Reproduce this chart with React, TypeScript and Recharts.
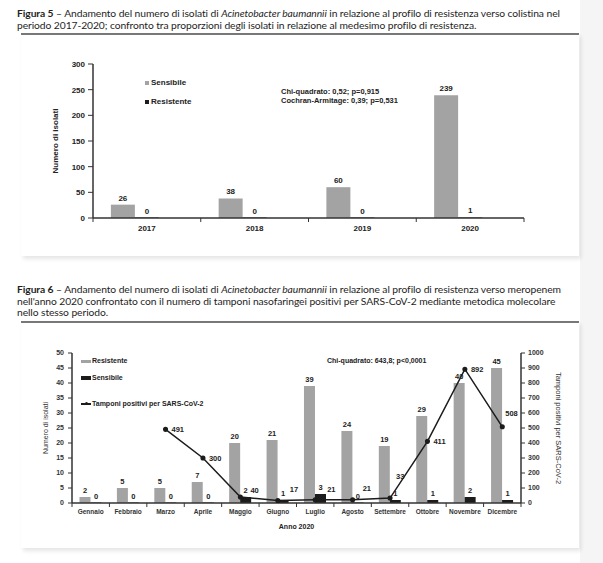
import React from 'react';
import {
  BarChart, ComposedChart, Bar, Line, XAxis, YAxis, LabelList, Legend,
} from 'recharts';

// ---------- Figura 5 data ----------
const years = ['2017', '2018', '2019', '2020'];
const sensibile5 = [26, 38, 60, 239];
const resistente5 = [0, 0, 0, 1];
const yTicks5 = [0, 50, 100, 150, 200, 250, 300];

// ---------- Figura 6 data ----------
const months = ['Gennaio', 'Febbraio', 'Marzo', 'Aprile', 'Maggio', 'Giugno', 'Luglio', 'Agosto', 'Settembre', 'Ottobre', 'Novembre', 'Dicembre'];
const resistente6 = [2, 5, 5, 7, 20, 21, 39, 24, 19, 29, 40, 45];
const sensibile6 = [0, 0, 0, 0, 2, 1, 3, 0, 1, 1, 2, 1];
const tamponi = [null, null, 491, 300, 40, 17, 21, 21, 33, 411, 892, 508];
const yTicks6Left = [0, 5, 10, 15, 20, 25, 30, 35, 40, 45, 50];
const yTicks6Right = [0, 100, 200, 300, 400, 500, 600, 700, 800, 900, 1000];

// label nudges for the line values (as placed in the original figure)
const lineLabelDx = [6, 6, 6, 6, 10, 12, 12, 10, 6, 6, 6, 3];
const lineLabelDy = [0, 0, 0, 0, -7, -11, -10, -11, -22, 0, 0, -13];

const data5 = years.map((y, i) => ({ year: y, sensibile: sensibile5[i], resistente: resistente5[i] }));
const data6 = months.map((m, i) => ({ month: m, resistente: resistente6[i], sensibile: sensibile6[i], tamponi: tamponi[i] }));

const CF = '"Liberation Sans", Arial, sans-serif';
const GRAY = '#a3a3a3';
const BLACK = '#1c1c1c';
const AXIS = '#333';

// keeps zero-value bars present (hidden under the axis line) so that their "0" labels are drawn
const zeroMin = (v: any) => (v === 0 ? 0.5 : 0);

function makeCatTick(gap: number, fontSize: number, fontWeight: string, fill: string) {
  return (props: any) => {
    const { x, y, payload, index, visibleTicksCount } = props;
    const off = payload && typeof payload.offset === 'number' ? payload.offset : 0;
    const ay = y - gap;
    return (
      <g>
        {off > 0 && <line x1={x - off} x2={x - off} y1={ay} y2={ay + 4} stroke={AXIS} strokeWidth={1} />}
        {off > 0 && index === visibleTicksCount - 1 && (
          <line x1={x + off} x2={x + off} y1={ay} y2={ay + 4} stroke={AXIS} strokeWidth={1} />
        )}
        <text x={x} y={y} dy="0.71em" textAnchor="middle" fontSize={fontSize} fontWeight={fontWeight} fill={fill} fontFamily={CF}>
          {payload.value}
        </text>
      </g>
    );
  };
}

function AxisTitle(props: any) {
  const { viewBox, text, dxFromLeft, rot, fs, fw, color } = props;
  if (!viewBox) return null;
  const cx = viewBox.x + dxFromLeft;
  const cy = viewBox.y + viewBox.height / 2;
  return (
    <g transform={`translate(${cx}, ${cy}) rotate(${rot})`}>
      <text x={0} y={0} textAnchor="middle" dominantBaseline="central"
        fontSize={fs} fontWeight={fw} fill={color} fontFamily={CF}>
        {text}
      </text>
    </g>
  );
}

function XTitle(props: any) {
  const { viewBox, text } = props;
  if (!viewBox) return null;
  return (
    <text x={viewBox.x + viewBox.width / 2} y={viewBox.y + 23} textAnchor="middle" dominantBaseline="central"
      fontSize={7} fontWeight="bold" fill="#222" fontFamily={CF}>{text}</text>
  );
}

function BarValueLabel(props: any) {
  const { x, y, width, value, fs } = props;
  if (value === null || value === undefined) return null;
  return (
    <text x={Number(x) + Number(width) / 2} y={Number(y) - 4} textAnchor="middle"
      fontSize={fs} fontWeight="bold" fill="#222" fontFamily={CF}>{value}</text>
  );
}

function LineValueLabel(props: any) {
  const { x, y, value, index } = props;
  if (value === null || value === undefined) return null;
  const dy = lineLabelDy[index] || 0;
  const dx = lineLabelDx[index] || 6;
  return (
    <text x={Number(x) + dx} y={Number(y) + dy} dominantBaseline="central" textAnchor="start"
      fontSize={7.5} fontWeight="bold" fill="#222" fontFamily={CF}>{value}</text>
  );
}

const legend5Items = [
  { name: 'Sensibile', color: GRAY, top: 43 },
  { name: 'Resistente', color: BLACK, top: 62 },
];

const Legend5 = () => (
  <div style={{ position: 'relative', width: 0, height: 0 }}>
    {legend5Items.map((it) => (
      <div key={it.name} style={{ position: 'absolute', left: 124, top: it.top, whiteSpace: 'nowrap', display: 'flex', alignItems: 'center', fontFamily: CF, fontSize: 8, fontWeight: 'bold', color: '#222', lineHeight: '9px' }}>
        <span style={{ display: 'inline-block', width: 4, height: 4, background: it.color, marginRight: 2 }} />
        {it.name}
      </div>
    ))}
    <div style={{ position: 'absolute', left: 260, top: 53, whiteSpace: 'nowrap', fontFamily: CF, fontSize: 7.5, fontWeight: 'bold', color: '#222', lineHeight: '8.5px' }}>
      <div>Chi-quadrato: 0,52; p=0,915</div>
      <div>Cochran-Armitage: 0,39; p=0,531</div>
    </div>
  </div>
);

const legend6Items = [
  { name: 'Resistente', color: GRAY, top: 34, type: 'bar', h: 3 },
  { name: 'Sensibile', color: BLACK, top: 51, type: 'bar', h: 4 },
  { name: 'Tamponi positivi per SARS-CoV-2', color: BLACK, top: 77, type: 'line', h: 1.2 },
];

const Legend6 = () => (
  <div style={{ position: 'relative', width: 0, height: 0 }}>
    {legend6Items.map((it) => (
      <div key={it.name} style={{ position: 'absolute', left: 60, top: it.top, whiteSpace: 'nowrap', display: 'flex', alignItems: 'center', fontFamily: CF, fontSize: 7, fontWeight: 'bold', color: '#222', lineHeight: '8px' }}>
        <span style={{ position: 'relative', display: 'inline-block', width: 10, height: it.h, background: it.color, marginRight: 1 }}>
          {it.type === 'line' && (
            <span style={{ position: 'absolute', left: 3.5, top: -1.4, width: 3, height: 3, borderRadius: 2, background: BLACK }} />
          )}
        </span>
        {it.name}
      </div>
    ))}
    <div style={{ position: 'absolute', left: 306, top: 34, whiteSpace: 'nowrap', fontFamily: CF, fontSize: 7, fontWeight: 'bold', color: '#222', lineHeight: '8px' }}>
      Chi-quadrato: 643,8; p&lt;0,0001
    </div>
  </div>
);

const titleStyle: React.CSSProperties = {
  position: 'absolute', left: 17, width: 560, fontFamily: 'Lato, "Open Sans", sans-serif', fontSize: 10.3,
  lineHeight: '11.5px', color: '#1e1e1e', letterSpacing: '-0.08px',
};

const cardStyle: React.CSSProperties = {
  position: 'absolute', left: 21, width: 558, background: '#fff', borderTop: '2px solid #787878',
  boxShadow: '2px 3px 4px rgba(0,0,0,0.10)',
};

export default function App() {
  return (
    <div style={{ position: 'absolute', left: 0, top: 0, width: 603, height: 563, background: '#fff', overflow: 'hidden' }}>
      <div style={{ position: 'absolute', left: 580, top: 0, width: 23, height: 563, background: '#f5f5f5' }} />

      {/* Figura 5 */}
      <div style={{ ...titleStyle, top: 8 }}>
        <b>Figura 5</b> – Andamento del numero di isolati di <i>Acinetobacter baumannii</i> in relazione al profilo di resistenza verso colistina nel periodo 2017-2020; confronto tra proporzioni degli isolati in relazione al medesimo profilo di resistenza.
      </div>
      <div style={{ ...cardStyle, top: 33, height: 221 }}>
        <BarChart width={558} height={221} data={data5} margin={{ top: 29, right: 55, bottom: 18, left: 32 }}
          barGap={0} barCategoryGap="16.6%">
          <XAxis dataKey="year" height={20} axisLine={{ stroke: AXIS, strokeWidth: 1.5 }} tickLine={false} tickSize={0} tickMargin={7}
            tick={makeCatTick(7, 8, 'bold', '#222')} interval={0} />
          <YAxis domain={[0, 300]} ticks={yTicks5} width={40} axisLine={{ stroke: AXIS, strokeWidth: 1.5 }} tickLine={{ stroke: AXIS }}
            tickSize={5} tickMargin={3} tick={{ fontSize: 8, fontWeight: 'bold', fill: '#222', fontFamily: CF }}
            label={<AxisTitle text="Numero di isolati" dxFromLeft={2} rot={-90} fs={8} fw="bold" color="#222" />} />
          <Legend content={<Legend5 />} wrapperStyle={{ position: 'absolute', left: 0, top: 0, width: 0, height: 0 }} />
          <Bar dataKey="sensibile" name="Sensibile" fill={GRAY} isAnimationActive={false} minPointSize={zeroMin}>
            <LabelList dataKey="sensibile" content={<BarValueLabel fs={8} />} />
          </Bar>
          <Bar dataKey="resistente" name="Resistente" fill={BLACK} isAnimationActive={false} minPointSize={zeroMin}>
            <LabelList dataKey="resistente" content={<BarValueLabel fs={8} />} />
          </Bar>
          <Bar dataKey="spacer" fill="none" legendType="none" isAnimationActive={false} />
        </BarChart>
      </div>

      {/* Figura 6 */}
      <div style={{ ...titleStyle, top: 284 }}>
        <b>Figura 6</b> – Andamento del numero di isolati di <i>Acinetobacter baumannii</i> in relazione al profilo di resistenza verso meropenem nell'anno 2020 confrontato con il numero di tamponi nasofaringei positivi per SARS-CoV-2 mediante metodica molecolare nello stesso periodo.
      </div>
      <div style={{ ...cardStyle, top: 321, height: 225 }}>
        <ComposedChart width={558} height={225} data={data6} margin={{ top: 30, right: 12, bottom: 15, left: 15 }}
          barGap={0} barCategoryGap="20%">
          <XAxis dataKey="month" height={30} axisLine={{ stroke: AXIS, strokeWidth: 1.5 }} tickLine={false} tickSize={0} tickMargin={6}
            tick={makeCatTick(6, 6.5, 'bold', '#333')} interval={0}
            label={<XTitle text="Anno 2020" />} />
          <YAxis yAxisId="left" domain={[0, 50]} ticks={yTicks6Left} width={36} axisLine={{ stroke: AXIS, strokeWidth: 1.5 }}
            tickLine={{ stroke: AXIS }} tickSize={4} tickMargin={4}
            tick={{ fontSize: 7, fontWeight: 'bold', fill: '#333', fontFamily: CF }}
            label={<AxisTitle text="Numero di isolati" dxFromLeft={9} rot={-90} fs={7} fw="normal" color="#333" />} />
          <YAxis yAxisId="right" orientation="right" domain={[0, 1000]} ticks={yTicks6Right} width={46}
            axisLine={{ stroke: AXIS, strokeWidth: 1.5 }} tickLine={{ stroke: AXIS }} tickSize={4} tickMargin={3}
            tick={{ fontSize: 7, fontWeight: 'bold', fill: '#333', fontFamily: CF }}
            label={<AxisTitle text="Tamponi positivi per SARS-CoV-2" dxFromLeft={37} rot={90} fs={7.5} fw="normal" color="#333" />} />
          <Legend content={<Legend6 />} wrapperStyle={{ position: 'absolute', left: 0, top: 0, width: 0, height: 0 }} />
          <Bar yAxisId="left" dataKey="resistente" name="Resistente" fill={GRAY} isAnimationActive={false} minPointSize={zeroMin}>
            <LabelList dataKey="resistente" content={<BarValueLabel fs={7.5} />} />
          </Bar>
          <Bar yAxisId="left" dataKey="sensibile" name="Sensibile" fill={BLACK} isAnimationActive={false} minPointSize={zeroMin}>
            <LabelList dataKey="sensibile" content={<BarValueLabel fs={7.5} />} />
          </Bar>
          <Line yAxisId="right" dataKey="tamponi" name="Tamponi positivi per SARS-CoV-2" stroke={BLACK} strokeWidth={1.5}
            dot={{ r: 1.8, fill: BLACK, stroke: BLACK }} activeDot={false} connectNulls={false} isAnimationActive={false}>
            <LabelList dataKey="tamponi" content={<LineValueLabel />} />
          </Line>
        </ComposedChart>
      </div>
    </div>
  );
}
